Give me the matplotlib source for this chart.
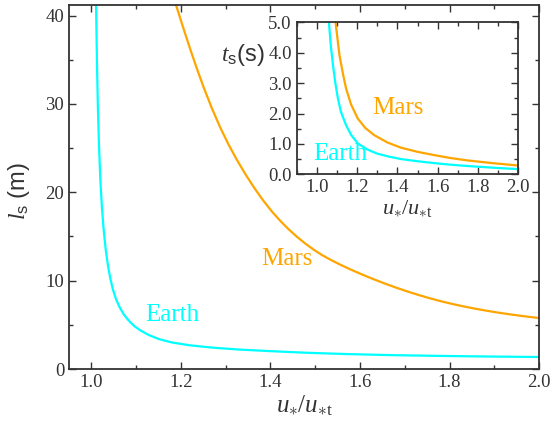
import numpy as np
import matplotlib
matplotlib.use('Agg')
import matplotlib.pyplot as plt
import matplotlib.ticker as mticker

# ── data ─────────────────────────────────────────────────────────────────────
# main panel: saltation length l_s (m) vs u*/u*t
earth_u = [1.0095, 1.0104, 1.0125, 1.0145, 1.0170, 1.0200, 1.0235, 1.0275,
           1.0320, 1.0370, 1.0420, 1.0480, 1.0550, 1.0630, 1.0720, 1.0830,
           1.0960, 1.1100, 1.1280, 1.1500, 1.1800, 1.2200, 1.2700, 1.3300,
           1.4000, 1.4800, 1.5700, 1.6700, 1.7800, 1.8900, 2.0000]
earth_l = [45.0, 41.2, 34.5, 29.6, 25.3, 21.4, 18.3, 15.7,
           13.5, 11.7, 10.3, 9.0, 7.9, 7.0, 6.2, 5.5,
           4.85, 4.35, 3.85, 3.4, 3.0, 2.68, 2.42, 2.2,
           2.02, 1.84, 1.69, 1.57, 1.48, 1.41, 1.36]

mars_u = [1.175, 1.189, 1.205, 1.2207, 1.235, 1.2505, 1.268, 1.288, 1.306,
          1.325, 1.345, 1.365, 1.3847, 1.403, 1.422, 1.440, 1.459, 1.478,
          1.4965, 1.515, 1.534, 1.555, 1.580, 1.605, 1.630, 1.655, 1.680,
          1.705, 1.730, 1.755, 1.780, 1.805, 1.830, 1.855, 1.880, 1.910,
          1.940, 1.970, 2.000]
mars_l = [43.5, 41.2, 38.64, 36.21, 34.09, 31.92, 29.65, 27.31, 25.44,
          23.67, 21.97, 20.41, 19.01, 17.84, 16.76, 15.84, 14.97, 14.19,
          13.51, 12.90, 12.37, 11.83, 11.24, 10.69, 10.17, 9.68, 9.22,
          8.79, 8.39, 8.02, 7.68, 7.375, 7.10, 6.85, 6.62, 6.37,
          6.15, 5.95, 5.77]

# inset: saltation time t_s (s) vs u*/u*t
earth_ins_u = [1.055, 1.060, 1.070, 1.080, 1.092, 1.1045, 1.120, 1.145, 1.170,
               1.203, 1.250, 1.300, 1.360, 1.420, 1.500, 1.581, 1.660, 1.745,
               1.870, 2.000]
earth_ins_t = [5.6, 5.0, 4.2, 3.6, 3.0, 2.5, 2.05, 1.62, 1.30,
               1.02, 0.82, 0.68, 0.58, 0.50, 0.43, 0.37, 0.32, 0.275,
               0.22, 0.17]

mars_ins_u = [1.088, 1.093, 1.1125, 1.130, 1.145, 1.170, 1.203, 1.240, 1.285,
              1.350, 1.4167, 1.500, 1.581, 1.660, 1.745, 1.870, 2.000]
mars_ins_t = [5.6, 5.0, 3.92, 3.3, 2.83, 2.3, 1.84, 1.53, 1.29,
              1.05, 0.88, 0.74, 0.635, 0.54, 0.46, 0.37, 0.29]

CYAN   = "#00ffff"
ORANGE = "#ffa500"
DARK   = "#333333"

plt.rcParams['font.family'] = ['Liberation Serif', 'DejaVu Serif']
plt.rcParams['mathtext.fontset'] = 'custom'
plt.rcParams['mathtext.rm'] = 'Liberation Serif'
plt.rcParams['mathtext.it'] = 'Liberation Serif:italic'
plt.rcParams['mathtext.sf'] = 'Liberation Sans'

XLAB = r'$u_{\ast}/u_{\ast\mathrm{t}}$'


def style_axes(ax, xmin, ymaj, ymin, xfmt, yfmt):
    ax.xaxis.set_major_locator(mticker.FixedLocator([1.0, 1.2, 1.4, 1.6, 1.8, 2.0]))
    ax.xaxis.set_minor_locator(mticker.MultipleLocator(xmin))
    ax.yaxis.set_major_locator(mticker.MultipleLocator(ymaj))
    ax.yaxis.set_minor_locator(mticker.MultipleLocator(ymin))
    ax.xaxis.set_major_formatter(mticker.FormatStrFormatter(xfmt))
    ax.yaxis.set_major_formatter(mticker.FormatStrFormatter(yfmt))
    ax.tick_params(which='both', direction='in', top=True, right=True,
                   color=DARK, labelcolor=DARK, width=1.0, labelsize=13.5)
    ax.tick_params(which='major', length=5)
    ax.tick_params(which='minor', length=3)
    for sp in ax.spines.values():
        sp.set_linewidth(1.3)
        sp.set_color(DARK)


fig = plt.figure(figsize=(5.53, 4.26), dpi=100)

# ── main panel ───────────────────────────────────────────────────────────────
ax = fig.add_axes([0.1248, 0.1338, 0.85, 0.8545])
ax.plot(earth_u, earth_l, color=CYAN, lw=1.6)
ax.plot(mars_u, mars_l, color=ORANGE, lw=1.6)
ax.set_xlim(0.95, 2.0)
ax.set_ylim(0, 41.2)
style_axes(ax, 0.1, 10, 5, '%.1f', '%d')

ax.text(1.12, 6.1, "Earth", color=CYAN, fontsize=18, va='center', ha='left')
ax.text(1.379, 12.5, "Mars", color=ORANGE, fontsize=18, va='center', ha='left')

ax.set_xlabel(XLAB, fontsize=18, color=DARK, labelpad=2)
ax.set_ylabel(r'$\mathit{l}_{\mathsf{s}}$ (m)', fontsize=17, color=DARK,
              fontfamily='Liberation Sans')
ax.yaxis.set_label_coords(-0.078, 0.49)

# ── inset ────────────────────────────────────────────────────────────────────
ins = fig.add_axes([0.5365, 0.5908, 0.4007, 0.3564])
ins.plot(earth_ins_u, earth_ins_t, color=CYAN, lw=1.6)
ins.plot(mars_ins_u, mars_ins_t, color=ORANGE, lw=1.6)
ins.set_xlim(0.9, 2.0)
ins.set_ylim(0, 5.0)
style_axes(ins, 0.1, 1.0, 0.5, '%.1f', '%.1f')

ins.text(0.984, 0.67, "Earth", color=CYAN, fontsize=18, va='center', ha='left')
ins.text(1.277, 2.2, "Mars", color=ORANGE, fontsize=18, va='center', ha='left')

ins.set_xlabel(XLAB, fontsize=16, color=DARK, labelpad=1)
ins.text(-0.143, 0.785, r'$\mathit{t}_{\mathsf{s}}$(s)', transform=ins.transAxes,
         fontsize=17, color=DARK, ha='right', va='center',
         fontfamily='Liberation Sans')

fig.savefig("out.png", dpi=100, facecolor='white')
